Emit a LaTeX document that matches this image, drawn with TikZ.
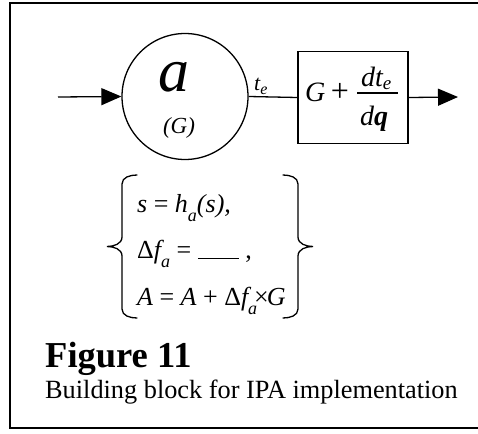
\documentclass[tikz,border=0pt]{standalone}
\usepackage{fontspec}
\setmainfont{Liberation Serif}
\usetikzlibrary{arrows.meta}

% font size in pt (1pt = 1 unit of the picture)
\newcommand\fs[1]{\fontsize{#1}{#1}\selectfont}
% lowered italic subscript: #1 size, #2 drop, #3 text
\newcommand\lowsub[3]{\raisebox{-#2pt}{\fs{#1}\itshape #3}}

\tikzset{
  wire/.style={line width=1.3pt},
  flow/.style={wire, -{Triangle[length=20pt,width=17pt]}},
  txt/.style={inner sep=0pt, anchor=base west},
  frame/.style={line width=1.3pt},
  brace/.style={line width=1.3pt, line cap=round},
}

\begin{document}
\begin{tikzpicture}[x=1pt, y=-1pt]
  \useasboundingbox (0,0) rectangle (478,433);

  % open frame round the figure
  \draw[frame] (478,3) -- (10,3) -- (10,428) -- (478,428);

  % the alpha block
  \node[draw, circle, minimum size=126pt, inner sep=0pt, line width=1.3pt] (blk) at (185,96.5) {};
  \node[inner sep=0pt] (alpha) at (174,77.5) {\fs{62}\itshape a};
  \node[inner sep=0pt] (arg) at (179,127.5) {\fs{23}\itshape (G)};

  % gain block
  \node[draw, minimum width=110pt, minimum height=92pt, inner sep=0pt, line width=1.3pt] (gain) at (353,97.5) {};
  \node[txt] (gsym) at (305,102) {\fs{28}\itshape G};
  \node[inner sep=0pt, anchor=base] (plus) at (340,102) {\fs{32}+};
  \node[txt] (num) at (361,87) {\fs{28}\itshape dt\lowsub{19}{2}{e}};
  \node[txt] (den) at (360,125) {\fs{28}\itshape d\textbf{q}};
  \coordinate (barl) at (357,93);
  \coordinate (barr) at (398,93);
  \draw[line width=1.2pt] (barl) -- (barr);

  % signal path
  \coordinate (src) at (58,97);
  \coordinate (dst) at (458,97);
  \draw[flow] (src) -- (blk.west);
  \draw[wire] (blk.east) -- (gain.west);
  \draw[flow] (gain.east) -- (dst);
  \node[txt] (te) at (254,91) {\fs{22}\itshape t\lowsub{16}{3}{e}};

  % braces round the update rules
  \draw[brace] (137,175) to[out=180,in=90] (122,184) -- (122,237)
               to[out=-90,in=0] (107,246.5) to[out=0,in=90] (122,256)
               -- (122,309) to[out=-90,in=180] (137,318);
  \draw[brace] (283,175) to[out=0,in=90] (298,184) -- (298,237)
               to[out=-90,in=180] (313,246.5) to[out=180,in=90] (298,256)
               -- (298,309) to[out=-90,in=0] (283,318);

  \node[txt] (r1) at (137,212) {\fs{26}\itshape s\upshape\ =\ \itshape h\lowsub{18}{9}{a}(s),};
  \node[txt] (r2) at (137,258) {\fs{26}Δ\itshape f\lowsub{18}{9}{a}\upshape\ =\ \rule[-1pt]{41pt}{1.1pt}\ ,};
  \node[txt] (r3) at (137,305) {\fs{26}\itshape A\upshape\ =\ \itshape A\upshape\ +\ Δ\itshape f\lowsub{18}{9}{a}\upshape\hspace{-3pt}×\hspace{-2pt}\itshape G};

  % caption
  \node[txt] (fig) at (45,367) {\fs{36.5}\bfseries Figure 11};
  \node[txt] (cap) at (45,398) {\fs{26.3}Building block for IPA implementation};
\end{tikzpicture}
\end{document}
